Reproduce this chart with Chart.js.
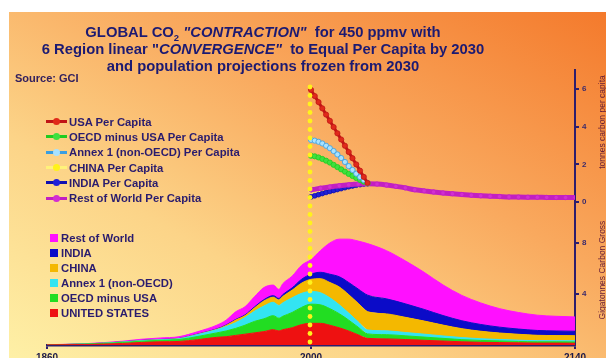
<!DOCTYPE html>
<html>
<head>
<meta charset="utf-8">
<script src="https://cdn.jsdelivr.net/npm/chart.js@4.4.0/dist/chart.umd.min.js"></script>
<style>
  html, body { margin: 0; padding: 0; width: 606px; height: 358px; overflow: hidden; background: #fff; font-family: "Liberation Sans", Arial, sans-serif; }
  #fundo { position: absolute; left: 9px; top: 12px; right: 0; bottom: 0;
    background: linear-gradient(to top right, #fef0a6 0%, #fcd488 32%, #f9a95e 62%, #f47a2c 100%); }
  #grafico { position: absolute; left: 0; top: 0; }
  #titulo { position: absolute; left: 0; top: 24px; width: 526px; text-align: center; font-weight: bold; font-size: 14.8px; line-height: 17px; color: #1c1a72; }
  #titulo sub { font-size: 9.5px; line-height: 0; }
  #fonte { position: absolute; left: 15px; top: 72px; font-weight: bold; font-size: 11px; color: #33205e; }
  .legenda { position: absolute; font-weight: bold; font-size: 11.3px; color: #2a1c6e; }
  .legenda .linha { display: flex; align-items: center; white-space: nowrap; }
  #legendaPC { left: 46px; top: 114px; }
  #legendaPC .linha { height: 15.3px; }
  #legendaGC { left: 50px; top: 231px; }
  #legendaGC .linha { height: 14.9px; }
  .simbolo { position: relative; width: 21px; height: 10px; margin-right: 2px; flex: none; }
  .simbolo .traco { position: absolute; left: 0; top: 3.5px; width: 21px; height: 3px; }
  .simbolo .ponto { position: absolute; left: 7px; top: 1.5px; width: 7px; height: 7px; border-radius: 50%; }
  .caixa { width: 8px; height: 8px; margin-right: 3px; flex: none; }
  .tituloEixo { position: absolute; width: 140px; height: 10px; line-height: 10px; text-align: center; font-size: 8.5px; color: #6a2038; transform: rotate(-90deg); white-space: nowrap; }
</style>
</head>
<body>
<div id="fundo"></div>
<canvas id="grafico" width="606" height="372"></canvas>
<div id="titulo">GLOBAL CO<sub>2</sub> <i>"CONTRACTION"</i>&nbsp; for 450 ppmv with<br>6 Region linear "<i>CONVERGENCE"</i>&nbsp; to Equal Per Capita by 2030<br>and population projections frozen from 2030</div>
<div id="fonte">Source: GCI</div>
<div id="legendaPC" class="legenda"></div>
<div id="legendaGC" class="legenda"></div>
<div class="tituloEixo" style="left: 532px; top: 117px;">tonnes carbon per capita</div>
<div class="tituloEixo" style="left: 532px; top: 265px;">Gigatonnes Carbon Gross</div>

<script>
// Anos do eixo x e ticks
const anosEixo = [1860, 2000, 2140];
const anoMarco = 2000;
const ticksPC = [0, 2, 4, 6];
const ticksGC = [4, 8];

// Emissões brutas (GtC) por região - áreas empilhadas
const anosGC = [1860, 1880, 1900, 1910, 1920, 1930, 1940, 1950, 1955, 1960, 1965, 1970, 1975, 1980, 1983, 1985, 1990, 1995, 2000, 2005, 2010, 2015, 2020, 2025, 2030, 2040, 2050, 2060, 2070, 2080, 2090, 2100, 2110, 2120, 2130, 2140];
const gcEUA = [0.01, 0.04, 0.12, 0.2, 0.25, 0.28, 0.42, 0.6, 0.65, 0.75, 0.85, 0.95, 1.05, 1.2, 1.1, 1.2, 1.35, 1.6, 1.7, 1.7, 1.55, 1.35, 1.1, 0.8, 0.52, 0.48, 0.43, 0.37, 0.31, 0.25, 0.21, 0.19, 0.17, 0.15, 0.15, 0.14];
const gcOCDE = [0.005, 0.03, 0.08, 0.1, 0.12, 0.15, 0.25, 0.35, 0.45, 0.55, 0.7, 0.9, 1.0, 1.1, 1.0, 1.05, 1.2, 1.35, 1.5, 1.45, 1.3, 1.1, 0.85, 0.6, 0.35, 0.33, 0.29, 0.25, 0.21, 0.17, 0.15, 0.13, 0.11, 0.1, 0.1, 0.1];
const gcAnexo = [0.003, 0.01, 0.03, 0.04, 0.04, 0.06, 0.15, 0.25, 0.35, 0.45, 0.6, 0.8, 1.0, 1.05, 1.0, 1.05, 1.15, 1.1, 1.0, 0.95, 0.85, 0.7, 0.55, 0.42, 0.31, 0.3, 0.26, 0.23, 0.19, 0.16, 0.13, 0.11, 0.1, 0.09, 0.09, 0.09];
const gcChina = [0, 0, 0.005, 0.01, 0.01, 0.01, 0.02, 0.03, 0.08, 0.2, 0.15, 0.25, 0.4, 0.4, 0.42, 0.5, 0.6, 0.8, 0.95, 1.1, 1.2, 1.4, 1.45, 1.45, 1.43, 1.33, 1.19, 1.03, 0.85, 0.7, 0.59, 0.51, 0.46, 0.42, 0.4, 0.4];
const gcIndia = [0, 0, 0.005, 0.01, 0.01, 0.01, 0.02, 0.03, 0.04, 0.05, 0.06, 0.08, 0.1, 0.12, 0.13, 0.15, 0.18, 0.3, 0.4, 0.5, 0.65, 0.8, 0.95, 1.12, 1.3, 1.18, 1.06, 0.91, 0.75, 0.62, 0.53, 0.46, 0.41, 0.38, 0.36, 0.35];
const gcResto = [0.005, 0.02, 0.06, 0.09, 0.12, 0.14, 0.19, 0.29, 0.38, 0.6, 0.64, 0.8, 0.95, 0.83, 0.7, 0.85, 0.92, 1.1, 1.15, 1.7, 2.45, 2.95, 3.4, 3.76, 4.04, 3.78, 3.37, 2.91, 2.4, 1.99, 1.69, 1.45, 1.3, 1.2, 1.15, 1.12];
const nomesGC = ['UNITED STATES', 'OECD minus USA', 'Annex 1 (non-OECD)', 'CHINA', 'INDIA', 'Rest of World'];
const coresGC = ['#ee1111', '#22dd22', '#33e4f2', '#f4b800', '#0b0bc8', '#ff10ff'];

// Emissões per capita (tC/pessoa)
const anosPC = [2000, 2002, 2004, 2006, 2008, 2010, 2012, 2014, 2016, 2018, 2020, 2022, 2024, 2026, 2028, 2030];
const pcEUA = [5.95, 5.62, 5.3, 4.97, 4.64, 4.31, 3.98, 3.65, 3.32, 2.99, 2.66, 2.33, 2.0, 1.67, 1.34, 1.02];
const pcOCDE = [2.46, 2.43, 2.37, 2.29, 2.2, 2.1, 1.98, 1.86, 1.74, 1.62, 1.5, 1.39, 1.28, 1.18, 1.09, 1.0];
const pcAnexo = [3.3, 3.26, 3.2, 3.11, 2.99, 2.86, 2.71, 2.53, 2.34, 2.13, 1.91, 1.71, 1.51, 1.33, 1.17, 1.02];
const pcChina = [0.62, 0.66, 0.69, 0.72, 0.75, 0.78, 0.8, 0.83, 0.85, 0.87, 0.9, 0.92, 0.94, 0.96, 0.98, 0.99];
const pcIndia = [0.28, 0.34, 0.4, 0.46, 0.52, 0.57, 0.62, 0.67, 0.72, 0.77, 0.82, 0.86, 0.9, 0.93, 0.96, 0.98];
const anosRestoPC = [2000, 2005, 2010, 2015, 2020, 2025, 2030, 2035, 2040, 2045, 2050, 2055, 2060, 2065, 2070, 2075, 2080, 2085, 2090, 2095, 2100, 2105, 2110, 2115, 2120, 2125, 2130, 2135, 2140];
const pcResto = [0.65, 0.74, 0.81, 0.87, 0.92, 0.96, 0.98, 0.96, 0.91, 0.84, 0.76, 0.66, 0.6, 0.54, 0.49, 0.45, 0.41, 0.37, 0.34, 0.32, 0.3, 0.28, 0.27, 0.265, 0.26, 0.255, 0.25, 0.25, 0.25];
const nomesPC = ['USA Per Capita', 'OECD minus USA Per Capita', 'Annex 1 (non-OECD) Per Capita', 'CHINA Per Capita', 'INDIA Per Capita', 'Rest of World Per Capita'];
const linhasPC = ['#c01515', '#20cc20', '#3a9ee0', '#fff27a', '#1010b0', '#c21fc2'];
const pontosPC = ['#e02a1a', '#3ee03e', '#a8e2ff', '#fff21c', '#2020d8', '#d22ed2'];

const azulEixo = '#2d1e6e';

// Junta anos e valores no formato {x, y}
function pares(anos, valores) {
  return anos.map((a, i) => ({ x: a, y: valores[i] }));
}

const seriesPC = [
  { dados: pares(anosPC, pcEUA), ordem: 1, largura: 3, raio: 2.6 },
  { dados: pares(anosPC, pcOCDE), ordem: 3, largura: 3, raio: 2.6 },
  { dados: pares(anosPC, pcAnexo), ordem: 2, largura: 3, raio: 2.6 },
  { dados: pares(anosPC, pcChina), ordem: 6, largura: 3, raio: 2.6 },
  { dados: pares(anosPC, pcIndia), ordem: 5, largura: 3.5, raio: 2.4 },
  { dados: pares(anosRestoPC, pcResto), ordem: 4, largura: 5, raio: 2.2 }
];
const seriesGC = [gcEUA, gcOCDE, gcAnexo, gcChina, gcIndia, gcResto];

let datasets = [];

seriesPC.forEach((s, i) => {
  datasets.push({
    label: nomesPC[i],
    yAxisID: 'yPC',
    data: s.dados,
    borderColor: linhasPC[i],
    borderWidth: s.largura,
    pointRadius: s.raio,
    pointBackgroundColor: pontosPC[i],
    pointBorderColor: linhasPC[i],
    pointBorderWidth: 0.8,
    cubicInterpolationMode: 'monotone',
    fill: false,
    order: s.ordem
  });
});

seriesGC.forEach((valores, i) => {
  datasets.push({
    label: nomesGC[i],
    yAxisID: 'yGC',
    data: pares(anosGC, valores),
    borderColor: coresGC[i],
    backgroundColor: coresGC[i],
    borderWidth: 1,
    pointRadius: 0,
    cubicInterpolationMode: 'monotone',
    fill: 'stack',
    order: 10
  });
});

// Linha pontilhada amarela no ano 2000, de cima a baixo
const linhaMarco = {
  id: 'linhaMarco',
  afterDatasetsDraw(chart) {
    const { ctx, scales } = chart;
    const x = scales.x.getPixelForValue(anoMarco) - 1;
    const yTopo = scales.yPC.getPixelForValue(6.1);
    const yBase = scales.yGC.getPixelForValue(0) - 3;
    ctx.save();
    ctx.fillStyle = '#fff21c';
    for (let y = yTopo; y <= yBase; y += 8.5) {
      ctx.beginPath();
      ctx.arc(x, y, 2.4, 0, Math.PI * 2);
      ctx.fill();
    }
    ctx.restore();
  }
};

function eixoY(ticksLista) {
  return {
    position: 'right',
    stack: 'direita',
    afterBuildTicks: (s) => { s.ticks = ticksLista.map(v => ({ value: v })); },
    afterFit: (s) => { s.width = 31; },
    ticks: {
      color: '#3b2a6b',
      padding: 3,
      font: { family: 'Liberation Sans', size: 8, weight: 'bold' },
      callback: (v) => String(v)
    },
    grid: { drawOnChartArea: false, drawTicks: true, tickLength: 4, color: azulEixo, lineWidth: 2 },
    border: { display: true, color: azulEixo, width: 2 }
  };
}

const escalaPC = Object.assign(eixoY(ticksPC), { stackWeight: 136, min: -0.2, max: 7 });
const escalaGC = Object.assign(eixoY(ticksGC), { stackWeight: 139, min: 0, max: 10.9, stacked: true });

const ctx = document.getElementById('grafico').getContext('2d');

new Chart(ctx, {
  type: 'line',
  data: { datasets: datasets },
  options: {
    responsive: false,
    animation: false,
    layout: { padding: { left: 47, top: 70, right: 0, bottom: 0 } },
    plugins: {
      legend: { display: false },
      tooltip: { enabled: false }
    },
    scales: {
      x: {
        type: 'linear',
        min: 1860,
        max: 2140,
        afterBuildTicks: (s) => { s.ticks = anosEixo.map(v => ({ value: v })); },
        afterFit: (s) => { s.height = 27; },
        ticks: {
          color: '#1c1a4a',
          padding: 3,
          maxRotation: 0,
          font: { family: 'Liberation Sans', size: 10, weight: 'bold' },
          callback: (v) => String(v)
        },
        grid: { drawOnChartArea: false, drawTicks: true, tickLength: 4, color: azulEixo, lineWidth: 2 },
        border: { display: true, color: azulEixo, width: 2.5 }
      },
      yPC: escalaPC,
      yGC: escalaGC
    }
  },
  plugins: [linhaMarco]
});

// Legendas em HTML, montadas a partir das mesmas listas
const legPC = document.getElementById('legendaPC');
nomesPC.forEach((nome, i) => {
  const linha = document.createElement('div');
  linha.className = 'linha';
  linha.innerHTML = '<span class="simbolo"><span class="traco" style="background:' + linhasPC[i] + '"></span>' +
    '<span class="ponto" style="background:' + pontosPC[i] + '"></span></span>' + nome;
  legPC.appendChild(linha);
});

const legGC = document.getElementById('legendaGC');
for (let i = nomesGC.length - 1; i >= 0; i--) {
  const linha = document.createElement('div');
  linha.className = 'linha';
  linha.innerHTML = '<span class="caixa" style="background:' + coresGC[i] + '"></span>' + nomesGC[i];
  legGC.appendChild(linha);
}
</script>
</body>
</html>
